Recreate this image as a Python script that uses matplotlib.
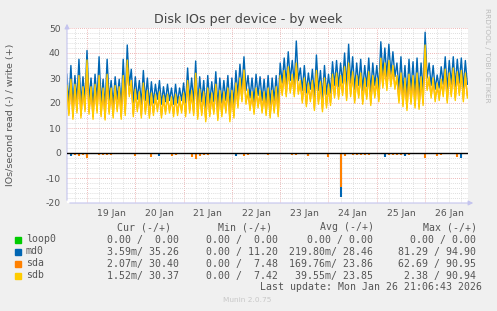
import numpy as np
import matplotlib.pyplot as plt

plt.rcParams['axes.unicode_minus'] = False

# write IOs/s every 2 hours from Jan 18 14:00: peak value, then the dip one hour later
md0_hi = [31.5, 35.0, 31.0, 37.5, 30.5, 41.0, 30.0, 31.5, 38.5, 29.5,
          37.5, 29.0, 30.5, 29.5, 37.5, 43.2, 33.5, 30.5, 29.0, 33.0,
          30.0, 28.5, 27.5, 29.0, 26.5, 27.5, 26.0, 27.5, 26.0, 28.0,
          34.0, 30.0, 36.8, 30.5, 29.0, 31.0, 28.5, 32.5, 30.0, 29.0,
          31.0, 30.0, 33.0, 35.5, 38.5, 31.0, 30.0, 31.5, 30.5, 29.5,
          31.0, 30.0, 31.0, 36.0, 38.0, 40.5, 37.0, 44.8, 34.0, 35.0,
          32.0, 33.5, 39.2, 33.0, 35.0, 31.5, 36.5, 37.0, 36.0, 40.0,
          43.5, 38.5, 36.0, 37.5, 35.0, 38.0, 36.0, 35.0, 44.5, 42.0,
          43.5, 40.5, 36.0, 38.5, 35.0, 37.5, 36.5, 38.0, 36.0, 48.3,
          36.0, 35.0, 31.2, 34.5, 38.5, 37.0, 38.5, 37.5, 38.0, 37.0]
md0_lo = [20.0, 19.0, 21.0, 19.5, 21.0, 21.0, 19.0, 21.0, 20.0, 18.5,
          21.0, 19.5, 21.5, 19.0, 20.5, 27.0, 20.0, 21.5, 19.5, 21.0,
          19.0, 20.0, 21.5, 19.5, 20.5, 21.0, 19.5, 20.0, 21.0, 20.0,
          21.0, 20.0, 19.0, 20.5, 18.0, 20.0, 20.5, 18.5, 20.0, 21.0,
          18.0, 19.5, 23.0, 25.5, 25.0, 22.0, 20.5, 23.0, 21.0, 20.0,
          19.5, 21.0, 20.0, 28.0, 27.5, 29.0, 27.5, 29.0, 25.0, 24.0,
          25.5, 22.5, 25.0, 22.0, 23.5, 24.0, 27.0, 26.5, 28.0, 26.5,
          28.0, 25.5, 27.0, 25.0, 26.5, 24.5, 27.0, 25.5, 31.0, 30.5,
          31.5, 30.5, 25.5, 24.0, 22.5, 25.0, 23.5, 23.0, 24.5, 30.0,
          27.0, 25.5, 26.0, 27.5, 25.5, 27.5, 26.5, 28.0, 26.0, 27.5]
sda_hi = [25.5, 28.0, 26.0, 29.0, 25.0, 35.0, 25.0, 26.0, 29.5, 24.5,
          30.0, 24.5, 25.5, 25.0, 29.5, 35.0, 27.5, 24.0, 23.0, 26.5,
          23.5, 22.5, 22.0, 23.0, 21.5, 22.0, 21.0, 22.0, 21.0, 22.5,
          27.5, 23.5, 30.0, 24.0, 23.0, 24.5, 22.5, 26.0, 23.5, 23.0,
          24.5, 23.5, 26.5, 28.5, 31.5, 24.0, 23.0, 24.5, 23.5, 23.0,
          24.5, 23.5, 25.0, 29.5, 31.5, 33.0, 30.0, 34.5, 27.5, 28.5,
          26.5, 27.5, 31.5, 27.0, 28.5, 26.0, 30.0, 30.5, 29.5, 33.0,
          34.5, 31.0, 29.5, 30.5, 28.5, 31.0, 29.5, 28.5, 36.0, 34.5,
          35.5, 33.5, 29.5, 30.5, 28.5, 30.0, 29.5, 30.5, 29.0, 41.5,
          29.0, 28.5, 26.5, 28.0, 32.0, 30.5, 32.5, 31.0, 31.5, 30.5]
sda_lo = [16.0, 14.5, 17.0, 15.0, 17.5, 16.5, 14.5, 17.0, 15.5, 14.0,
          16.5, 15.0, 17.5, 14.5, 16.0, 23.5, 15.5, 17.5, 15.0, 16.5,
          15.0, 16.0, 17.5, 15.0, 16.5, 17.0, 15.5, 16.0, 17.0, 15.5,
          17.0, 16.0, 14.5, 16.0, 13.5, 15.5, 16.5, 14.0, 15.5, 17.0,
          13.5, 15.0, 19.0, 21.5, 20.5, 18.0, 16.5, 19.0, 17.0, 16.0,
          15.0, 17.0, 15.5, 24.0, 23.5, 25.0, 23.5, 24.5, 21.0, 19.5,
          21.5, 18.0, 20.5, 17.5, 19.0, 20.0, 23.0, 22.5, 24.0, 22.0,
          23.5, 21.0, 23.0, 20.5, 22.5, 20.0, 23.0, 21.5, 27.0, 26.0,
          27.5, 26.5, 21.0, 19.5, 18.0, 20.5, 19.0, 18.5, 20.0, 26.0,
          23.0, 21.5, 22.0, 23.5, 21.0, 23.5, 22.0, 24.0, 21.5, 23.0]
sdb_hi = [27.0, 29.5, 27.5, 31.0, 26.5, 37.2, 26.5, 27.5, 31.0, 26.0,
          31.5, 26.0, 27.0, 26.5, 31.0, 37.2, 29.0, 25.5, 24.5, 28.0,
          25.0, 24.0, 23.5, 24.5, 23.0, 23.5, 22.5, 23.5, 22.5, 24.0,
          29.0, 25.0, 31.9, 25.5, 24.5, 26.0, 24.0, 27.5, 25.0, 24.5,
          26.0, 25.0, 28.0, 30.0, 33.2, 25.5, 24.5, 26.0, 25.0, 24.5,
          26.0, 25.0, 26.5, 31.0, 33.0, 34.5, 31.5, 36.0, 29.0, 30.0,
          28.0, 29.0, 33.0, 28.5, 30.0, 27.5, 31.5, 32.0, 31.0, 34.5,
          36.0, 32.5, 31.0, 32.0, 30.0, 32.5, 31.0, 30.0, 37.9, 36.0,
          37.0, 35.0, 31.0, 32.0, 30.0, 31.5, 31.0, 32.0, 30.5, 43.2,
          30.5, 30.0, 28.0, 29.5, 33.5, 32.0, 34.0, 32.5, 33.0, 32.0]
sdb_lo = [15.0, 13.5, 16.0, 14.0, 16.5, 15.5, 13.5, 16.0, 14.5, 13.2,
          15.5, 14.0, 16.5, 13.5, 15.0, 22.5, 14.5, 16.5, 14.0, 15.5,
          13.9, 15.0, 16.5, 14.0, 15.5, 16.0, 14.5, 15.0, 16.0, 14.5,
          16.0, 15.0, 13.5, 15.0, 12.5, 14.5, 15.5, 13.0, 14.5, 16.0,
          12.5, 14.0, 18.0, 20.5, 19.5, 17.0, 15.5, 18.0, 16.0, 15.0,
          14.0, 16.0, 14.5, 23.0, 22.5, 24.0, 22.5, 23.5, 20.0, 18.5,
          20.5, 17.0, 19.5, 16.5, 18.0, 19.0, 22.0, 21.5, 23.0, 21.0,
          22.5, 20.0, 22.0, 19.5, 21.5, 19.0, 22.0, 20.5, 26.0, 25.0,
          26.5, 25.5, 20.0, 18.5, 17.0, 19.5, 18.0, 17.5, 19.0, 25.0,
          22.0, 20.5, 21.0, 22.5, 20.0, 22.5, 21.0, 23.0, 20.5, 22.0]

# read IOs/s (drawn below zero), only the columns where it is not ~0
md0_read_idx = [1, 5, 23, 42, 60, 68, 79, 84, 98]
md0_read = [1.0, 1.0, 1.0, 1.0, 1.2, 17.5, 1.5, 1.0, 2.0]
sda_read_idx = [2, 3, 4, 5, 8, 9, 10, 11, 17, 21, 26, 27, 31, 32, 33, 34, 35,
                44, 45, 50, 56, 57, 60, 62, 65, 68, 69, 71, 72, 73, 74, 75,
                80, 81, 82, 83, 85, 89, 92, 93, 97]
sda_read = [0.8, 1.0, 0.6, 2.1, 0.8, 0.7, 0.8, 0.6, 1.0, 1.5, 1.0, 0.8, 1.5,
            2.2, 1.0, 0.8, 0.8, 1.0, 0.9, 0.8, 0.8, 0.7, 1.0, 0.5, 1.4, 13.5,
            1.0, 0.8, 0.7, 0.8, 0.6, 0.8, 0.8, 0.7, 0.8, 0.7, 0.8, 1.8, 1.0,
            0.9, 1.5]

day_ticks = [19.5, 20.5, 21.5, 22.5, 23.5, 24.5, 25.5, 26.5]
day_labels = ['19 Jan', '20 Jan', '21 Jan', '22 Jan', '23 Jan', '24 Jan', '25 Jan', '26 Jan']

names = ['loop0', 'md0', 'sda', 'sdb']
colors = ['#00CC00', '#0066B3', '#FF8000', '#FFCC00']
cur = ['0.00 /  0.00', '3.59m/ 35.26', '2.07m/ 30.40', '1.52m/ 30.37']
mins = ['0.00 /  0.00', '0.00 / 11.20', '0.00 /  7.48', '0.00 /  7.42']
avg = ['0.00 / 0.00', '219.80m/ 28.46', '169.76m/ 23.86', '39.55m/ 23.85']
maxs = ['0.00 / 0.00', '81.29 / 94.90', '62.69 / 90.95', '2.38 / 90.94']

W, H = 497, 311
def px(x, y):
    return x / W, 1 - y / H

fig = plt.figure(figsize=(W / 100, H / 100), dpi=100, facecolor='#F0F0F0')
ax = fig.add_axes([67 / W, 1 - 203 / H, 401 / W, 175 / H])
ax.set_facecolor('white')

t = 18 + 14 / 24 + np.arange(len(md0_hi)) * 2 / 24
xmin, xmax = 19 - 20 / 48.3, 19 + 381 / 48.3
ax.set_xlim(xmin, xmax)
ax.set_ylim(-20, 50)

# grid
d = 18.75
while d < xmax:
    major = abs(d - round(d)) < 1e-6
    ax.axvline(d, color='#e8a0a0' if major else '#d4d4d4', lw=0.6,
               ls=(0, (1, 1.5)), zorder=0)
    d += 0.25
for y in range(-18, 51, 2):
    ax.axhline(y, color='#e8a0a0' if y % 10 == 0 else '#d4d4d4', lw=0.6,
               ls=(0, (1, 1.5)), zorder=0)

# each series: peak at t, dip one hour later
tz = np.column_stack([t, t + 1 / 24]).ravel()
lw = 1.0
for hi, lo, c, z in [(md0_hi, md0_lo, colors[1], 2), (sda_hi, sda_lo, colors[2], 3),
                     (sdb_hi, sdb_lo, colors[3], 4)]:
    ax.plot(tz, np.column_stack([hi, lo]).ravel(), color=c, lw=lw, zorder=z)
ax.vlines(t[md0_read_idx], 0, -np.array(md0_read), color=colors[1], lw=1.5, zorder=2)
ax.vlines(t[sda_read_idx], 0, -np.array(sda_read), color=colors[2], lw=1.5, zorder=3)
ax.plot([t[0], tz[-1]], [0, 0], color='black', lw=1.0, zorder=5)

for s in ax.spines.values():
    s.set_visible(False)
axcol = '#c4c4ee'
ax.annotate('', xy=(0, 1.04), xytext=(0, 0), xycoords='axes fraction',
            arrowprops=dict(arrowstyle='-|>', color=axcol, lw=0.8, mutation_scale=7),
            annotation_clip=False)
ax.annotate('', xy=(1.02, 0), xytext=(0, 0), xycoords='axes fraction',
            arrowprops=dict(arrowstyle='-|>', color=axcol, lw=0.8, mutation_scale=7),
            annotation_clip=False)

txt = '#555555'
ax.set_yticks(range(-20, 51, 10))
ax.set_xticks(day_ticks)
ax.set_xticklabels(day_labels)
ax.tick_params(length=0, labelsize=6.7, labelcolor=txt)
ax.tick_params(axis='y', pad=4.5)
ax.tick_params(axis='x', pad=4)

fig.text(*px(248.5, 19), 'Disk IOs per device - by week', ha='center', va='center',
         fontsize=9.1, color='#444444')
fig.text(*px(11, 115), 'IOs/second read (-) / write (+)', ha='center', va='center',
         rotation=90, fontsize=6.8, color=txt)
fig.text(*px(487, 8), 'RRDTOOL / TOBI OETIKER', ha='center', va='top',
         rotation=270, fontsize=5.3, color='#bbbbbb')

mono = 'DejaVu Sans Mono'
fs = 7.1
hy = 227.5
for label, x in [('Cur (-/+)', 116.7), ('Min (-/+)', 218.3), ('Avg (-/+)', 320), ('Max (-/+)', 422.7)]:
    fig.text(*px(x, hy), label, ha='left', va='center', family=mono, fontsize=fs, color=txt)
for i, name in enumerate(names):
    y = 239.5 + i * 12
    fig.patches.append(plt.Rectangle(px(15, y + 3), 5.5 / W, 5.5 / H, color=colors[i],
                                     transform=fig.transFigure))
    fig.text(*px(26, y), name, ha='left', va='center', family=mono, fontsize=fs, color=txt)
    for vals, x in [(cur, 179), (mins, 277.7), (avg, 373), (maxs, 476)]:
        fig.text(*px(x, y), vals[i], ha='right', va='center', family=mono, fontsize=fs, color=txt)
fig.text(*px(482, 287.5), 'Last update: Mon Jan 26 21:06:43 2026', ha='right', va='center',
         family=mono, fontsize=fs, color=txt)
fig.text(*px(247, 300), 'Munin 2.0.75', ha='center', va='center', fontsize=5.3, color='#c8c8c8')

fig.savefig('out.png', dpi=100, facecolor=fig.get_facecolor())
